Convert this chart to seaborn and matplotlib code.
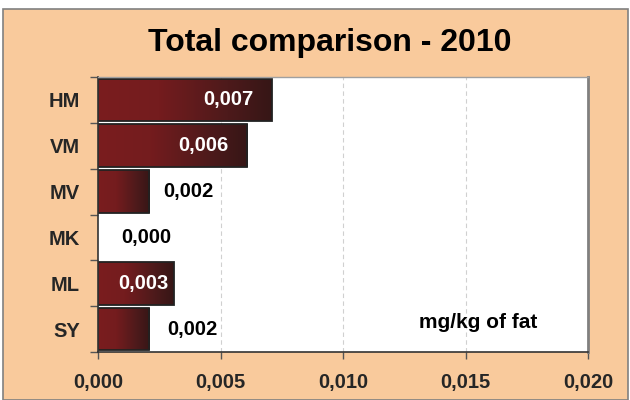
import matplotlib
matplotlib.use("Agg")
import matplotlib.pyplot as plt
import seaborn as sns
import numpy as np
import pandas as pd
from matplotlib.colors import LinearSegmentedColormap
from matplotlib.patches import Rectangle

categories = ["HM", "VM", "MV", "MK", "ML", "SY"]
values = [0.0071, 0.0061, 0.0021, 0.0, 0.0031, 0.0021]
labels = ["0,007", "0,006", "0,002", "0,000", "0,003", "0,002"]
xticks = [0.0, 0.005, 0.010, 0.015, 0.020]
xtick_labels = ["0,000", "0,005", "0,010", "0,015", "0,020"]
title = "Total comparison - 2010"
unit = "mg/kg of fat"

# label placement (points offset from bar end; negative = inside, white)
label_dx = [-13, -14, 10, 17, -4, 13]

sns.set_theme(style="white")
plt.rcParams['font.family'] = ['Liberation Sans', 'DejaVu Sans']

peach = "#F9CA9C"
fig = plt.figure(figsize=(6.3, 4.0), dpi=100)
fig.patch.set_facecolor("white")
fig.patches.append(Rectangle((3/630, 0), 625/630, 391/400, transform=fig.transFigure,
                             facecolor=peach, edgecolor="#808080", linewidth=1.2, zorder=-1))

ax = fig.add_axes([98/630, 1 - 352/400, 490/630, 275/400])
ax.set_facecolor("white")

df = pd.DataFrame({"cat": categories, "val": values})
sns.barplot(data=df, y="cat", x="val", orient="h", ax=ax, width=0.93,
            color="#6e1c1c", edgecolor="#222222", linewidth=1.3, zorder=3)

cmap = LinearSegmentedColormap.from_list("g", [(0.0, "#7a1d1f"), (0.35, "#741c1e"),
                                               (0.75, "#4d1a1b"), (1.0, "#361616")])
grad = np.linspace(0, 1, 256).reshape(1, -1)
for p in ax.patches:
    w = p.get_width()
    if w <= 0:
        p.set_visible(False)
        continue
    x0, y0, h = p.get_x(), p.get_y(), p.get_height()
    im = ax.imshow(grad, cmap=cmap, aspect="auto", extent=[x0, x0 + w, y0 + h, y0],
                   zorder=3.5, interpolation="bilinear")
    im.set_clip_path(p)
    p.set_facecolor("none")
    p.set_zorder(4)

ax.set_xlim(0, 0.020)
ax.set_ylim(5.5, -0.5)
ax.set_xticks(xticks)
ax.set_xticklabels(xtick_labels, fontsize=14.5, fontweight="bold")
ax.set_yticks(range(len(categories)))
ax.set_yticklabels(categories, fontsize=14.5, fontweight="bold")
ax.set_xlabel("")
ax.set_ylabel("")
ax.tick_params(axis="y", length=0, pad=13)
ax.tick_params(axis="x", length=5, width=1, color="#555555", pad=10, direction="out")
ax.set_yticks(np.arange(-0.5, 6.0, 1.0), minor=True)
ax.tick_params(axis="y", which="minor", length=6, width=1, color="#555555", left=True)
ax.tick_params(axis="x", bottom=True)

for x in xticks[1:-1]:
    ax.axvline(x, color="#d0d0d0", linestyle=(0, (4, 3)), linewidth=0.8, zorder=1)

for s in ["left", "bottom"]:
    ax.spines[s].set_color("#333333")
    ax.spines[s].set_linewidth(1.2)
ax.spines["top"].set_color("#a0a0a0")
ax.spines["top"].set_linewidth(1.0)
ax.spines["right"].set_color("#808080")
ax.spines["right"].set_linewidth(2.0)
for s in ax.spines.values():
    s.set_zorder(6)

for i, (v, lab, dx) in enumerate(zip(values, labels, label_dx)):
    inside = dx < 0
    ax.annotate(lab, (v, i), xytext=(dx, 0), textcoords="offset points",
                ha="right" if inside else "left", va="center",
                color="white" if inside else "black", fontsize=14.5,
                fontweight="bold", zorder=7)

ax.text(537/630, 1 - 322/400, unit, transform=fig.transFigure, ha="right", va="center",
        fontsize=15, fontweight="bold", color="black")

fig.text(330/630, 1 - 43/400, title, ha="center", va="center", fontsize=23,
         fontweight="bold", color="black")

fig.savefig("out.png", dpi=100, facecolor=fig.get_facecolor())
